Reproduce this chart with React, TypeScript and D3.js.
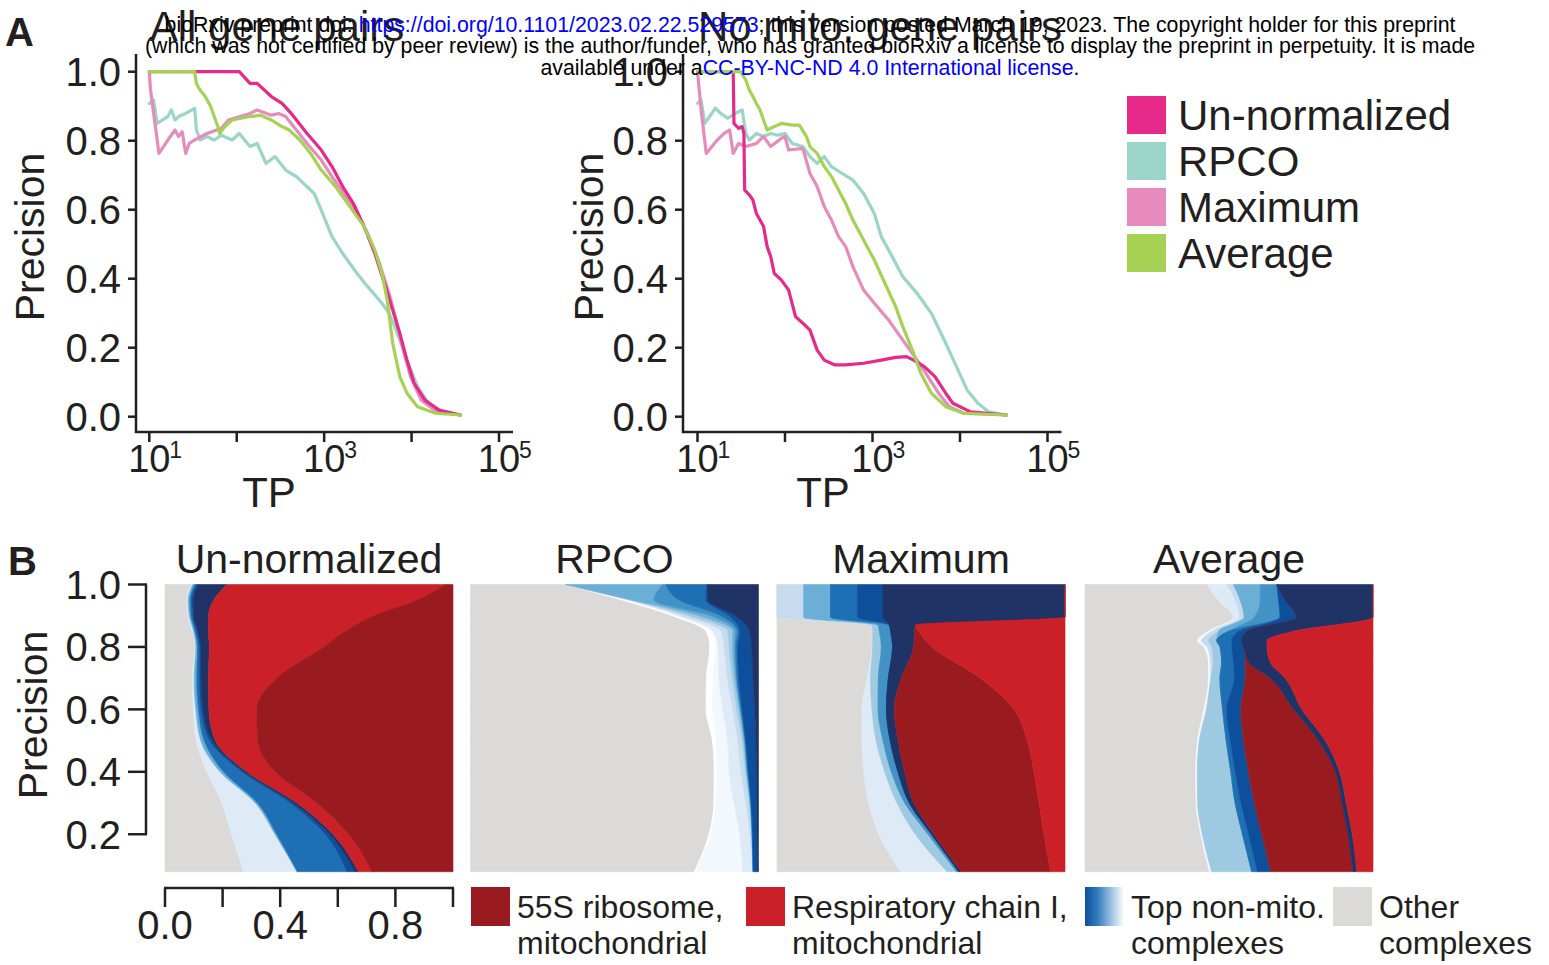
import React from 'react';
import * as d3 from 'd3';

// ---------------- Panel A data: [TP, precision] ----------------
const allUnnorm: [number, number][] = [[10,1.0],[107,1.0],[142,0.966],[171,0.966],[249,0.928],[330,0.908],[437,0.874],[637,0.821],[927,0.773],[1230,0.725],[1630,0.667],[2160,0.618],[2870,0.551],[3800,0.473],[5040,0.377],[6080,0.309],[7330,0.242],[8850,0.164],[10700,0.097],[14200,0.048],[20600,0.019],[36200,0.005]];
const allRPCO: [number, number][] = [[10,0.908],[11.2,0.918],[12.3,0.85],[16.3,0.87],[17.9,0.889],[19.7,0.86],[21.6,0.87],[26.1,0.879],[33,0.894],[34.6,0.831],[38,0.802],[45.8,0.812],[55.3,0.802],[66.7,0.816],[88.5,0.802],[107,0.821],[142,0.783],[171,0.792],[216,0.734],[274,0.754],[363,0.715],[481,0.696],[637,0.667],[769,0.647],[927,0.599],[1230,0.522],[1630,0.473],[2380,0.415],[3150,0.377],[4580,0.329],[5530,0.3],[6670,0.251],[8850,0.164],[11700,0.087],[15600,0.039],[22700,0.014],[36200,0.005]];
const allMax: [number, number][] = [[10,1.0],[10.3,0.95],[12.9,0.763],[16.3,0.802],[19.7,0.831],[21.6,0.812],[23.8,0.826],[26.1,0.763],[28.6,0.792],[33,0.802],[45.8,0.821],[66.7,0.836],[80.5,0.86],[142,0.879],[171,0.889],[249,0.874],[301,0.879],[363,0.87],[481,0.831],[637,0.792],[927,0.744],[1230,0.696],[1790,0.638],[2380,0.589],[3150,0.531],[4170,0.454],[5530,0.357],[6670,0.28],[8050,0.193],[9730,0.116],[12900,0.048],[18800,0.017],[36200,0.005]];
const allAvg: [number, number][] = [[10,1.0],[33,1.0],[34.6,0.966],[38,0.947],[43.7,0.928],[50.4,0.899],[55.3,0.87],[60.8,0.841],[63.7,0.821],[73.3,0.841],[88.5,0.86],[142,0.87],[188,0.874],[249,0.86],[330,0.841],[398,0.831],[527,0.802],[700,0.763],[927,0.715],[1350,0.667],[1970,0.609],[2870,0.551],[3800,0.483],[4580,0.415],[5270,0.338],[6080,0.213],[7330,0.116],[8850,0.068],[11700,0.029],[18800,0.01],[36200,0.005]];

const mitoUnnorm: [number, number][] = [[10,1.0],[25.6,1.0],[26.1,0.85],[29.4,0.836],[32.4,0.841],[33.9,0.821],[34.6,0.657],[39.1,0.643],[43,0.628],[47.1,0.589],[51.8,0.57],[56.9,0.551],[62.5,0.493],[68.7,0.464],[75.5,0.415],[91,0.396],[110,0.367],[132,0.29],[160,0.271],[193,0.251],[233,0.193],[281,0.164],[372,0.15],[494,0.15],[791,0.155],[1260,0.164],[1840,0.172],[2440,0.174],[2950,0.164],[3910,0.145],[5180,0.116],[6870,0.068],[8290,0.039],[13200,0.014],[34000,0.005]];
const mitoRPCO: [number, number][] = [[10,0.908],[11,0.918],[12.1,0.85],[16,0.894],[18.4,0.879],[22.2,0.865],[26.8,0.879],[32.4,0.889],[35.6,0.821],[39.1,0.802],[47.1,0.821],[56.9,0.812],[68.7,0.821],[82.8,0.816],[100,0.821],[121,0.792],[160,0.783],[193,0.754],[233,0.734],[281,0.754],[340,0.725],[450,0.705],[597,0.686],[791,0.647],[1050,0.589],[1260,0.522],[1680,0.464],[2220,0.406],[3240,0.357],[4710,0.3],[6870,0.213],[9100,0.145],[12100,0.077],[16000,0.039],[21200,0.014],[34000,0.005]];
const mitoMax: [number, number][] = [[10,1.0],[11,0.889],[12.6,0.763],[16.8,0.802],[20.2,0.821],[23.3,0.831],[25.6,0.763],[29.4,0.792],[35.6,0.783],[47.1,0.792],[56.9,0.812],[68.7,0.783],[91,0.807],[100,0.812],[110,0.773],[160,0.778],[193,0.705],[233,0.667],[281,0.609],[340,0.57],[409,0.522],[494,0.493],[597,0.435],[791,0.367],[1050,0.329],[1530,0.28],[2220,0.222],[3240,0.164],[4300,0.116],[5690,0.068],[7550,0.029],[11000,0.01],[34000,0.005]];
const mitoAvg: [number, number][] = [[10,1.0],[30.9,1.0],[35.6,0.976],[39.1,0.947],[43,0.928],[47.1,0.908],[51.8,0.889],[56.9,0.86],[62.5,0.831],[75.5,0.841],[91,0.85],[121,0.845],[146,0.845],[176,0.812],[193,0.783],[233,0.763],[281,0.725],[340,0.696],[409,0.657],[494,0.618],[597,0.57],[791,0.512],[1050,0.454],[1390,0.386],[1840,0.319],[2220,0.261],[2950,0.184],[3560,0.126],[4710,0.068],[6870,0.029],[11000,0.01],[34000,0.005]];

const methodNames = ['Un-normalized', 'RPCO', 'Maximum', 'Average'];
const methodColors = ['#E7298A', '#9AD5C8', '#E78BBD', '#A6D254'];
const drawOrder = [1, 2, 0, 3];

const precTicksA = [0, 0.2, 0.4, 0.6, 0.8, 1.0];
const tpTicks = [1e1, 1e2, 1e3, 1e4, 1e5];
const tpLabelExps = [1, 3, 5];

// ---------------- Panel B data: shares of precision-level complexes ----------------
const unnormLevels = [1.0, 0.95, 0.9, 0.85, 0.8, 0.7, 0.6, 0.5, 0.4, 0.3, 0.2, 0.08];
const unnormKeys = ['other', 'b2', 'b5', 'b7', 'b8', 'navy', 'red', 'darkred'];
const unnormShares = [
  [0.093, 0.003, 0.007, 0.007, 0.005, 0.100, 0.758, 0.027],
  [0.075, 0.005, 0.007, 0.006, 0.005, 0.071, 0.706, 0.125],
  [0.079, 0.005, 0.006, 0.006, 0.003, 0.052, 0.573, 0.275],
  [0.096, 0.003, 0.005, 0.006, 0.003, 0.037, 0.475, 0.374],
  [0.104, 0.003, 0.006, 0.006, 0.005, 0.030, 0.396, 0.449],
  [0.095, 0.006, 0.009, 0.009, 0.006, 0.025, 0.237, 0.611],
  [0.098, 0.009, 0.009, 0.009, 0.007, 0.020, 0.166, 0.681],
  [0.108, 0.016, 0.012, 0.019, 0.008, 0.012, 0.147, 0.678],
  [0.145, 0.046, 0.012, 0.064, 0.008, 0.009, 0.098, 0.617],
  [0.197, 0.116, 0.008, 0.113, 0.012, 0.012, 0.069, 0.472],
  [0.231, 0.150, 0.006, 0.168, 0.015, 0.012, 0.054, 0.362],
  [0.272, 0.185, 0.002, 0.171, 0.027, 0.014, 0.046, 0.281],
];

const rpcoLevels = [1.0, 0.95, 0.9, 0.85, 0.8, 0.7, 0.6, 0.5, 0.4, 0.3, 0.2, 0.08];
const rpcoKeys = ['other', 'b0', 'b1', 'b2', 'b3', 'b4', 'b5', 'b6', 'b7', 'b8', 'navy'];
const rpcoShares = [
  [0.330, 0, 0, 0, 0, 0, 0.336, 0.012, 0.141, 0.003, 0.177],
  [0.527, 0.023, 0, 0, 0.006, 0.006, 0.075, 0.087, 0.093, 0.007, 0.176],
  [0.700, 0.017, 0, 0.017, 0.023, 0.035, 0.041, 0.035, 0.029, 0.021, 0.081],
  [0.816, 0.017, 0.006, 0.029, 0.023, 0.017, 0.009, 0.008, 0.008, 0.032, 0.032],
  [0.830, 0.021, 0.008, 0.021, 0.017, 0.012, 0.007, 0.005, 0.006, 0.047, 0.025],
  [0.818, 0.023, 0.021, 0.029, 0.017, 0.009, 0.005, 0.003, 0.006, 0.049, 0.019],
  [0.816, 0.023, 0.035, 0.035, 0.014, 0.009, 0.003, 0.003, 0.003, 0.044, 0.013],
  [0.839, 0.012, 0.041, 0.035, 0.015, 0.006, 0.003, 0.002, 0.002, 0.035, 0.009],
  [0.845, 0.008, 0.044, 0.041, 0.015, 0.005, 0.002, 0.002, 0.002, 0.028, 0.007],
  [0.845, 0.006, 0.064, 0.041, 0.012, 0.003, 0.002, 0.001, 0.001, 0.019, 0.006],
  [0.828, 0.006, 0.101, 0.035, 0.006, 0.001, 0.001, 0.001, 0.001, 0.015, 0.005],
  [0.775, 0.003, 0.164, 0.035, 0.002, 0, 0, 0, 0, 0.015, 0.003],
];

const maxLevels = [1.0, 0.895, 0.87, 0.85, 0.8, 0.7, 0.6, 0.5, 0.4, 0.3, 0.2, 0.08];
const maxKeys = ['other', 'b2', 'b3', 'b4', 'b5', 'b6', 'b7', 'b8', 'navy', 'darkred', 'red'];
const maxShares = [
  [0, 0, 0.093, 0, 0.093, 0, 0.093, 0.089, 0.632, 0, 0],
  [0, 0, 0.093, 0, 0.093, 0, 0.093, 0.089, 0.632, 0, 0],
  [0.330, 0, 0, 0.021, 0, 0.039, 0, 0, 0.090, 0, 0.519],
  [0.330, 0.002, 0, 0.023, 0, 0.039, 0, 0, 0.083, 0.014, 0.507],
  [0.330, 0.002, 0, 0.030, 0, 0.039, 0, 0, 0.073, 0.064, 0.461],
  [0.313, 0.012, 0, 0.027, 0, 0.035, 0, 0, 0.045, 0.275, 0.293],
  [0.295, 0.035, 0, 0.021, 0, 0.029, 0, 0, 0.027, 0.416, 0.177],
  [0.295, 0.049, 0, 0.024, 0, 0.025, 0, 0, 0.027, 0.448, 0.131],
  [0.301, 0.073, 0, 0.023, 0, 0.023, 0, 0, 0.023, 0.448, 0.108],
  [0.318, 0.098, 0, 0.027, 0, 0.016, 0, 0, 0.015, 0.434, 0.090],
  [0.353, 0.127, 0, 0.044, 0, 0.012, 0, 0, 0.008, 0.382, 0.073],
  [0.428, 0.162, 0, 0.032, 0, 0.008, 0, 0, 0.008, 0.310, 0.050],
];

const avgLevels = [1.0, 0.95, 0.895, 0.85, 0.82, 0.8, 0.75, 0.7, 0.6, 0.5, 0.4, 0.3, 0.2, 0.08];
const avgKeys = ['other', 'b1', 'b2', 'b3', 'b4', 'b5', 'b6', 'b7', 'b8', 'darkred', 'navy', 'red'];
const avgShares = [
  [0.426, 0, 0.066, 0.023, 0, 0.093, 0.058, 0, 0, 0, 0.333, 0],
  [0.463, 0, 0.058, 0.017, 0, 0.069, 0.064, 0, 0.023, 0, 0.304, 0],
  [0.515, 0, 0.021, 0.016, 0, 0.035, 0.090, 0, 0.058, 0, 0.264, 0],
  [0.428, 0.012, 0, 0.023, 0, 0.035, 0, 0.035, 0.029, 0, 0.162, 0.275],
  [0.390, 0.015, 0, 0.023, 0.029, 0, 0, 0.052, 0.035, 0, 0.087, 0.368],
  [0.413, 0.012, 0, 0.015, 0.029, 0, 0, 0.041, 0.041, 0, 0.081, 0.368],
  [0.428, 0.008, 0, 0.009, 0.029, 0, 0, 0.041, 0.041, 0.012, 0.075, 0.356],
  [0.428, 0.008, 0, 0, 0.032, 0, 0, 0.049, 0.038, 0.087, 0.052, 0.304],
  [0.413, 0.009, 0, 0, 0.056, 0, 0, 0.014, 0.049, 0.183, 0.029, 0.247],
  [0.390, 0.007, 0, 0, 0.093, 0, 0, 0.014, 0.046, 0.260, 0.023, 0.166],
  [0.384, 0.006, 0, 0, 0.116, 0, 0, 0.015, 0.046, 0.301, 0.015, 0.116],
  [0.385, 0.006, 0, 0, 0.130, 0, 0, 0.020, 0.046, 0.304, 0.015, 0.093],
  [0.402, 0.006, 0, 0, 0.139, 0, 0, 0.021, 0.046, 0.299, 0.015, 0.072],
  [0.432, 0.008, 0, 0, 0.139, 0, 0, 0.020, 0.046, 0.285, 0.014, 0.056],
];

const precTicksB = [0.2, 0.4, 0.6, 0.8, 1.0];
const fracTicksB = [0, 0.2, 0.4, 0.6, 0.8, 1.0];
const fracLabelsB = [0, 0.4, 0.8];
const legendBLabels = [['55S ribosome,', 'mitochondrial'], ['Respiratory chain I,', 'mitochondrial'], ['Top non-mito.', 'complexes'], ['Other', 'complexes']];

// ---------------- styles ----------------
const FONT = "'Liberation Sans', Arial, Helvetica, sans-serif";
const INK = '#231F20';
const layerColors: Record<string, string> = {
  other: '#DBDAD9', b0: '#FFFFFF', b1: '#F3F8FD', b2: '#DEEBF7', b3: '#C6DBEF', b4: '#9ECAE1',
  b5: '#6BAED6', b6: '#4292C6', b7: '#1E6FB4', b8: '#0D4F9B', navy: '#1F3366',
  red: '#CB2027', darkred: '#9A1B1F',
};

function PanelA({ title, titleX, axisX, xRange, labelX, tpX, curves }: any) {
  const x = d3.scaleLog().domain([10, 1e5]).range(xRange);
  const y = d3.scaleLinear().domain([0, 1]).range([416.7, 71.7]);
  const line = d3.line<[number, number]>().x(d => x(d[0])).y(d => y(d[1]));
  const axisY = 432;
  const axisRight = xRange[1] + 14;
  return (
    <g>
      <text x={titleX} y={41} textAnchor="middle" fontSize={42} fill={INK}>{title}</text>
      {drawOrder.map(i => (
        <path key={i} d={line(curves[i]) || ''} fill="none" stroke={methodColors[i]} strokeWidth={3.2} strokeLinejoin="round" strokeLinecap="round" />
      ))}
      <line x1={axisX} x2={axisX} y1={54} y2={axisY + 1} stroke={INK} strokeWidth={2.5} />
      <line x1={axisX - 1} x2={axisRight} y1={axisY} y2={axisY} stroke={INK} strokeWidth={2.5} />
      {precTicksA.map(t => (
        <g key={t}>
          <line x1={axisX - 8} x2={axisX} y1={y(t)} y2={y(t)} stroke={INK} strokeWidth={2.5} />
          <text x={axisX - 15} y={y(t)} dy="0.36em" textAnchor="end" fontSize={40} fill={INK}>{t.toFixed(1)}</text>
        </g>
      ))}
      {tpTicks.map(t => (
        <line key={t} x1={x(t)} x2={x(t)} y1={axisY} y2={axisY + 10} stroke={INK} strokeWidth={2.5} />
      ))}
      {tpLabelExps.map(e => (
        <g key={e}>
          <text x={x(Math.pow(10, e))} y={472} textAnchor="middle" fontSize={38} fill={INK}>10</text>
          <text x={x(Math.pow(10, e)) + 20} y={458} fontSize={23} fill={INK}>{e}</text>
        </g>
      ))}
      <text x={tpX} y={507} textAnchor="middle" fontSize={42} fill={INK}>TP</text>
      <text transform={`translate(${labelX},237) rotate(-90)`} textAnchor="middle" fontSize={41} fill={INK}>Precision</text>
    </g>
  );
}

const yB = d3.scaleLinear().domain([0.08, 1.0]).range([871.7, 584.5]);
const bX0 = [165, 470.5, 777, 1085];
const bW = 288;

function PanelB({ x0, title, levels, keys, shares }: any) {
  const xs = d3.scaleLinear().domain([0, 1]).range([x0, x0 + bW]);
  const table = levels.map((lv: number, i: number) => {
    const row: any = { level: lv };
    keys.forEach((k: string, j: number) => { row[k] = shares[i][j]; });
    return row;
  });
  const stacked = d3.stack().keys(keys).offset(d3.stackOffsetExpand)(table);
  const area = d3.area<any>()
    .y(d => yB(d.data.level))
    .x0(d => xs(d[0]))
    .x1(d => xs(d[1]))
    .curve(d3.curveMonotoneY);
  return (
    <g>
      <text x={x0 + bW / 2} y={573} textAnchor="middle" fontSize={41} fill={INK}>{title}</text>
      {stacked.map((s: any) => (
        <path key={s.key} d={area(s) || ''} fill={layerColors[s.key]} stroke={layerColors[s.key]} strokeWidth={0.6} />
      ))}
    </g>
  );
}

export default function App() {
  const panelsB = [
    { title: 'Un-normalized', levels: unnormLevels, keys: unnormKeys, shares: unnormShares },
    { title: 'RPCO', levels: rpcoLevels, keys: rpcoKeys, shares: rpcoShares },
    { title: 'Maximum', levels: maxLevels, keys: maxKeys, shares: maxShares },
    { title: 'Average', levels: avgLevels, keys: avgKeys, shares: avgShares },
  ];
  const xF = d3.scaleLinear().domain([0, 1]).range([165, 165 + bW]);
  const legendFills = [layerColors.darkred, layerColors.red, 'url(#topGrad)', layerColors.other];
  const legendBX = [471, 746, 1085, 1333];
  return (
    <svg width={1549} height={965} style={{ position: 'absolute', left: 0, top: 0, background: '#fff' }} fontFamily={FONT}>
      <defs>
        <linearGradient id="topGrad" x1="0" x2="1" y1="0" y2="0">
          <stop offset="0" stopColor="#0D4F9B" />
          <stop offset="0.3" stopColor="#2D78BC" />
          <stop offset="1" stopColor="#FFFFFF" />
        </linearGradient>
      </defs>
      <rect width={1549} height={965} fill="#fff" />
      {/* Panel A */}
      <text x={5} y={46} fontSize={40} fontWeight="bold" fill={INK}>A</text>
      <PanelA title="All gene pairs" titleX={277} axisX={136} xRange={[149.3, 499]} labelX={44} tpX={269}
        curves={[allUnnorm, allRPCO, allMax, allAvg]} />
      <PanelA title="No mito. gene pairs" titleX={880} axisX={683} xRange={[697.5, 1047.5]} labelX={603} tpX={823}
        curves={[mitoUnnorm, mitoRPCO, mitoMax, mitoAvg]} />
      {methodNames.map((n, i) => (
        <g key={n}>
          <rect x={1127} y={96 + i * 46} width={39} height={38} fill={methodColors[i]} />
          <text x={1178} y={130 + i * 46} fontSize={42} fill={INK}>{n}</text>
        </g>
      ))}

      {/* Panel B */}
      <text x={8} y={575} fontSize={40} fontWeight="bold" fill={INK}>B</text>
      {panelsB.map((p, i) => (
        <PanelB key={p.title} x0={bX0[i]} {...p} />
      ))}
      <line x1={146} x2={146} y1={yB(1.0)} y2={yB(0.2)} stroke={INK} strokeWidth={2.5} />
      {precTicksB.map(t => (
        <g key={t}>
          <line x1={128} x2={147} y1={yB(t)} y2={yB(t)} stroke={INK} strokeWidth={2.5} />
          <text x={121} y={yB(t)} dy="0.36em" textAnchor="end" fontSize={40} fill={INK}>{t.toFixed(1)}</text>
        </g>
      ))}
      <text transform="translate(47,715) rotate(-90)" textAnchor="middle" fontSize={41} fill={INK}>Precision</text>
      <line x1={xF(0) - 1} x2={xF(1) + 1} y1={888} y2={888} stroke={INK} strokeWidth={2.5} />
      {fracTicksB.map(t => (
        <line key={t} x1={xF(t)} x2={xF(t)} y1={888} y2={907} stroke={INK} strokeWidth={2.5} />
      ))}
      {fracLabelsB.map(t => (
        <text key={t} x={xF(t)} y={939} textAnchor="middle" fontSize={40} fill={INK}>{t.toFixed(1)}</text>
      ))}
      {legendBLabels.map((lab, i) => (
        <g key={i}>
          <rect x={legendBX[i]} y={887} width={39} height={39} fill={legendFills[i]} />
          <text x={legendBX[i] + 46} y={918} fontSize={32} fill={INK}>{lab[0]}</text>
          <text x={legendBX[i] + 46} y={954} fontSize={32} fill={INK}>{lab[1]}</text>
        </g>
      ))}

      {/* bioRxiv header */}
      <g fontSize={21.3} fill="#000" textAnchor="middle">
        <text x={810} y={32}>bioRxiv preprint doi: <tspan fill="#0000FF">https://doi.org/10.1101/2023.02.22.529573</tspan>; this version posted March 19, 2023. The copyright holder for this preprint</text>
        <text x={810} y={53}>(which was not certified by peer review) is the author/funder, who has granted bioRxiv a license to display the preprint in perpetuity. It is made</text>
        <text x={810} y={75}>available under a<tspan fill="#0000FF">CC-BY-NC-ND 4.0 International license</tspan>.</text>
      </g>
    </svg>
  );
}
